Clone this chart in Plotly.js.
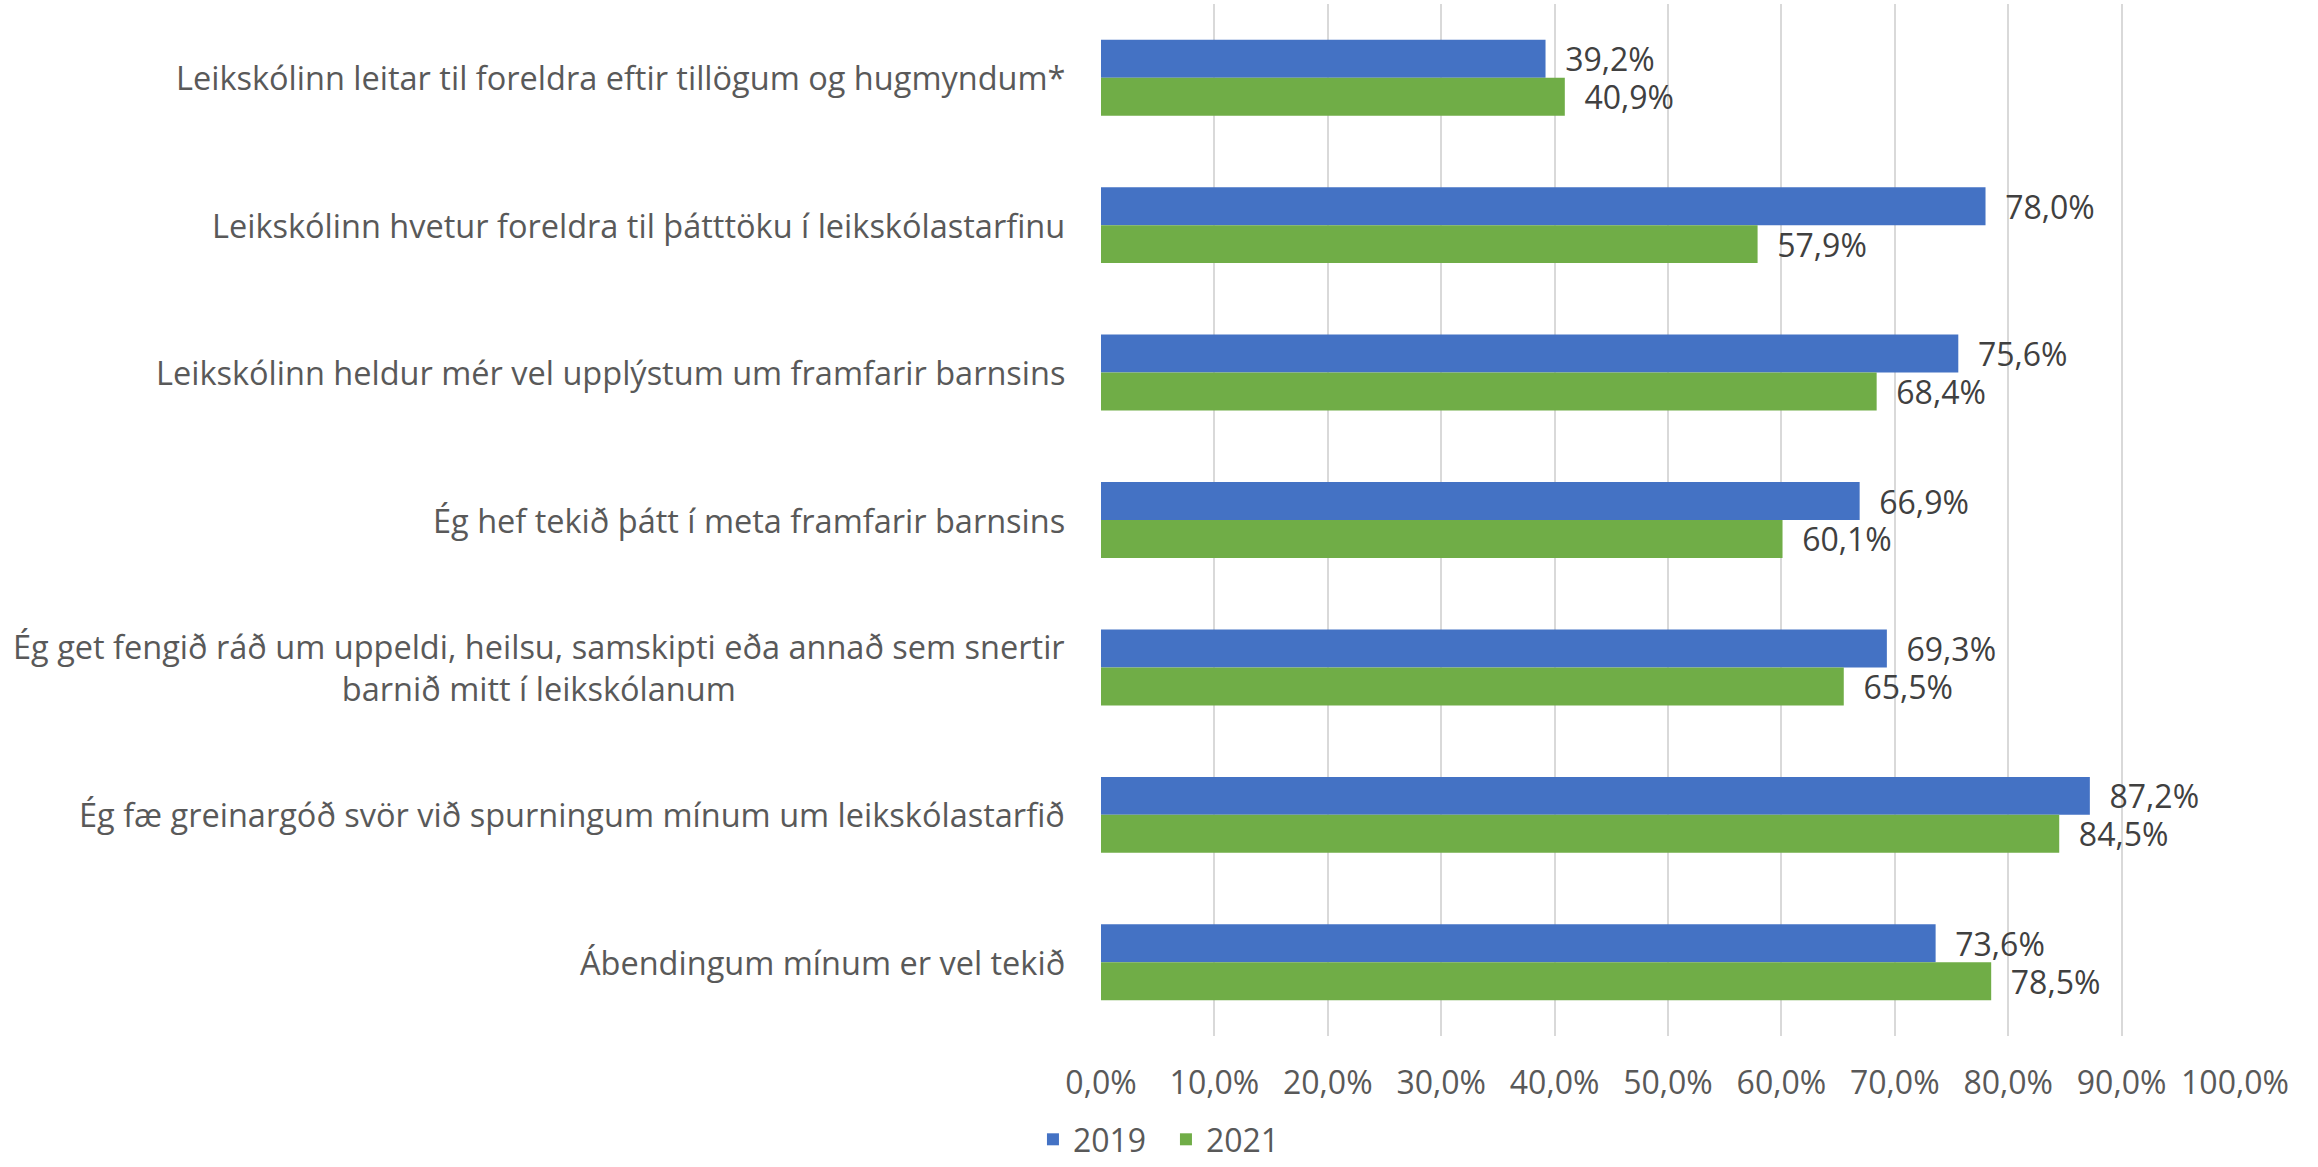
<!DOCTYPE html>
<html>
<head>
<meta charset="utf-8">
<script src="https://cdn.plot.ly/plotly-3.0.1.min.js"></script>
<style>html,body{margin:0;padding:0;background:#fff;}#chart{width:2318px;height:1167px;}</style>
</head>
<body>
<div id="chart"></div>
<script>
var categories = [
  "Leikskólinn leitar til foreldra eftir tillögum og hugmyndum*",
  "Leikskólinn hvetur foreldra til þátttöku í leikskólastarfinu",
  "Leikskólinn heldur mér vel upplýstum um framfarir barnsins",
  "Ég hef tekið þátt í meta framfarir barnsins",
  "Ég get fengið ráð um uppeldi, heilsu, samskipti eða annað sem snertir<br>barnið mitt í leikskólanum",
  "Ég fæ greinargóð svör við spurningum mínum um leikskólastarfið",
  "Ábendingum mínum er vel tekið"
];
var values2019 = [39.2, 78.0, 75.6, 66.9, 69.3, 87.2, 73.6];
var values2021 = [40.9, 57.9, 68.4, 60.1, 65.5, 84.5, 78.5];
var seriesNames = ["2019", "2021"];
var xTicks = [0, 10, 20, 30, 40, 50, 60, 70, 80, 90, 100];
var xTickLabels = ["0,0%", "10,0%", "20,0%", "30,0%", "40,0%", "50,0%", "60,0%", "70,0%", "80,0%", "90,0%", "100,0%"];

var FONT = "Open Sans, Noto Sans, sans-serif";
var labelFont = {family: FONT, size: 32, color: "#404040"};

function barTrace(name, vals, color) {
  return {
    type: "bar",
    orientation: "h",
    name: name,
    x: vals,
    y: categories,
    marker: {color: color},
    texttemplate: "\u00a0\u00a0%{x:.1f}%",
    textposition: "outside",
    textfont: labelFont,
    constraintext: "none",
    cliponaxis: false,
    hoverinfo: "skip"
  };
}

var data = [
  barTrace(seriesNames[0], values2019, "#4472C4"),
  barTrace(seriesNames[1], values2021, "#70AD47")
];

var annotations = categories.map(function (c) {
  return {
    xref: "paper", yref: "y", x: 0, y: c,
    text: c, showarrow: false,
    xanchor: "right", xshift: -34, align: "center",
    font: {family: FONT, size: 32.5, color: "#595959"}
  };
});

var layout = {
  width: 2318, height: 1167,
  margin: {l: 1101, r: 83, t: 4, b: 131, pad: 0},
  paper_bgcolor: "#ffffff", plot_bgcolor: "#ffffff",
  separators: ", ",
  barmode: "group",
  bargap: 0.485,
  bargroupgap: 0,
  font: {family: FONT, size: 32, color: "#595959"},
  xaxis: {
    range: [0, 100],
    tickvals: xTicks,
    ticktext: xTickLabels,
    showgrid: true, gridcolor: "#d9d9d9", gridwidth: 2,
    zeroline: false, showline: false,
    ticks: "", ticklabelstandoff: 25,
    tickfont: {family: FONT, size: 32, color: "#595959"},
    fixedrange: true
  },
  yaxis: {
    type: "category",
    autorange: "reversed",
    showticklabels: false,
    showgrid: false, zeroline: false, showline: false,
    ticks: "",
    fixedrange: true
  },
  showlegend: true,
  legend: {
    orientation: "h",
    xref: "container", yref: "container",
    x: 0.503, xanchor: "center",
    y: 0.0, yanchor: "bottom",
    font: {family: FONT, size: 32, color: "#595959"},
    itemwidth: 30,
    entrywidth: 88,
    traceorder: "normal"
  },
  annotations: annotations
};

Plotly.newPlot("chart", data, layout, {displayModeBar: false, staticPlot: true});
</script>
</body>
</html>
